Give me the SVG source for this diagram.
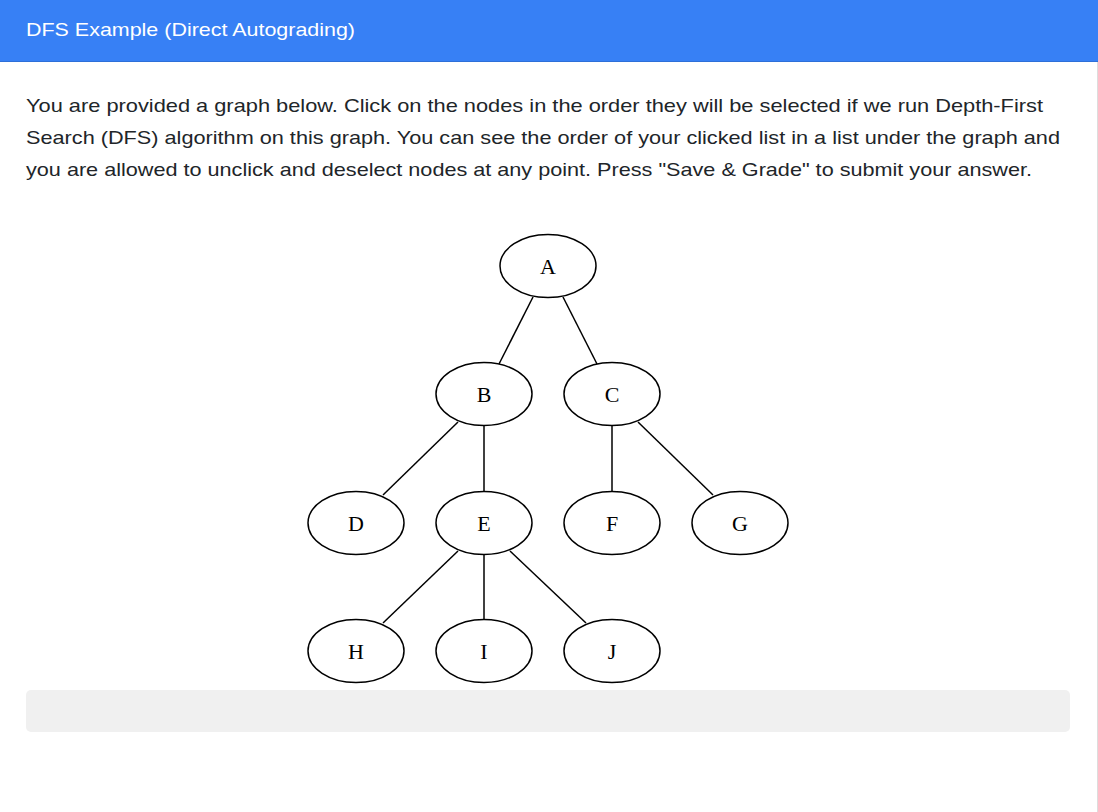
<svg xmlns="http://www.w3.org/2000/svg" width="1098" height="812" viewBox="0 0 1098 812">
<style>
.hdr{font-family:"Liberation Sans",Arial,sans-serif;font-size:18.5px;fill:#ffffff}
.para{font-family:"Liberation Sans",Arial,sans-serif;font-size:18.5px;fill:#212529}
.node ellipse{fill:#ffffff;stroke:#000000;stroke-width:1.5}
.node text{font-family:"Liberation Serif","Times New Roman",serif;font-size:22px;fill:#000000;text-anchor:middle}
#edges line{stroke:#000000;stroke-width:1.5}
</style>
<rect x="0" y="0" width="1098" height="812" fill="#ffffff"/>
<rect x="0" y="0" width="1098" height="61" fill="#3780f5"/>
<line x1="0" y1="61.5" x2="1098" y2="61.5" stroke="#2e6fd8" stroke-width="1"/>
<line x1="1097.5" y1="62" x2="1097.5" y2="812" stroke="#dddddd" stroke-width="1"/>
<text class="hdr" x="26" y="36" textLength="329" lengthAdjust="spacingAndGlyphs">DFS Example (Direct Autograding)</text>
<text class="para" x="26" y="112" textLength="1017" lengthAdjust="spacingAndGlyphs">You are provided a graph below. Click on the nodes in the order they will be selected if we run Depth-First</text>
<text class="para" x="26" y="144" textLength="1034" lengthAdjust="spacingAndGlyphs">Search (DFS) algorithm on this graph. You can see the order of your clicked list in a list under the graph and</text>
<text class="para" x="26" y="176" textLength="1006" lengthAdjust="spacingAndGlyphs">you are allowed to unclick and deselect nodes at any point. Press "Save &amp; Grade" to submit your answer.</text>
<g id="edges">
<line x1="533" y1="297" x2="499" y2="364"/>
<line x1="563" y1="297" x2="597" y2="364"/>
<line x1="458" y1="422" x2="383" y2="495"/>
<line x1="484" y1="425" x2="484" y2="491"/>
<line x1="612" y1="425" x2="612" y2="491"/>
<line x1="638" y1="422" x2="713" y2="495"/>
<line x1="458" y1="551" x2="383" y2="623"/>
<line x1="484" y1="555" x2="484" y2="619"/>
<line x1="510" y1="551" x2="586" y2="623"/>
</g>
<g id="node-A" class="node"><ellipse cx="548" cy="266" rx="48" ry="31.5"/><text x="548" y="274">A</text></g>
<g id="node-B" class="node"><ellipse cx="484" cy="394" rx="48" ry="31.5"/><text x="484" y="402">B</text></g>
<g id="node-C" class="node"><ellipse cx="612" cy="394" rx="48" ry="31.5"/><text x="612" y="402">C</text></g>
<g id="node-D" class="node"><ellipse cx="356" cy="523" rx="48" ry="31.5"/><text x="356" y="531">D</text></g>
<g id="node-E" class="node"><ellipse cx="484" cy="523" rx="48" ry="31.5"/><text x="484" y="531">E</text></g>
<g id="node-F" class="node"><ellipse cx="612" cy="523" rx="48" ry="31.5"/><text x="612" y="531">F</text></g>
<g id="node-G" class="node"><ellipse cx="740" cy="523" rx="48" ry="31.5"/><text x="740" y="531">G</text></g>
<g id="node-H" class="node"><ellipse cx="356" cy="651" rx="48" ry="31.5"/><text x="356" y="659">H</text></g>
<g id="node-I" class="node"><ellipse cx="484" cy="651" rx="48" ry="31.5"/><text x="484" y="659">I</text></g>
<g id="node-J" class="node"><ellipse cx="612" cy="651" rx="48" ry="31.5"/><text x="612" y="659">J</text></g>
<rect x="26" y="690" width="1044" height="42" rx="5" fill="#f0f0f0"/>
</svg>
